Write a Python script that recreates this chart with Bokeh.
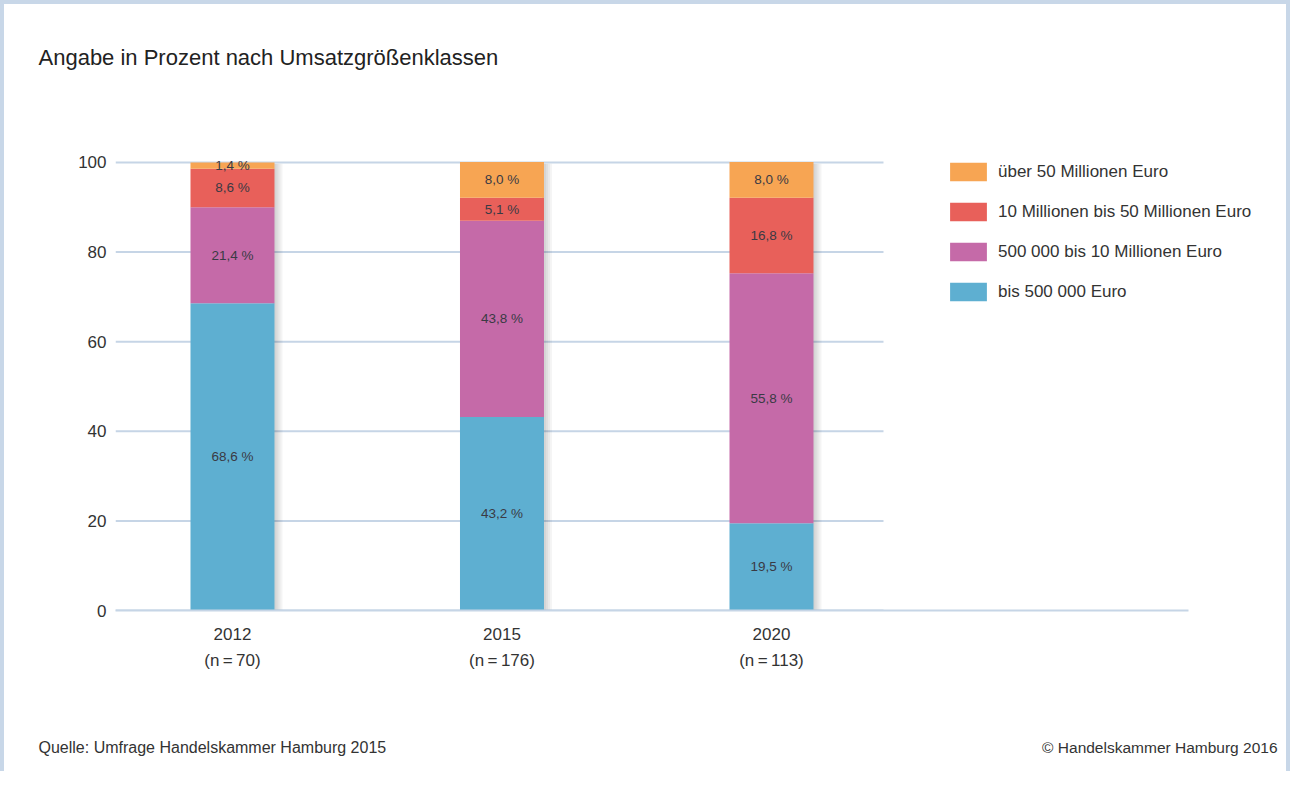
from bokeh.plotting import figure
from bokeh.layouts import column
from bokeh.models import Range1d, FixedTicker, Label, Legend, LegendItem, ColumnDataSource
from bokeh.core.properties import value
from bokeh.embed import file_html
from bokeh.resources import INLINE

# ---------------- data ----------------
years = ["2012", "2015", "2020"]
samples = [70, 176, 113]
series = ["bis 500 000 Euro", "500 000 bis 10 Millionen Euro",
          "10 Millionen bis 50 Millionen Euro", "über 50 Millionen Euro"]
bis_500k = [68.6, 43.2, 19.5]
bis_10m = [21.4, 43.8, 55.8]
bis_50m = [8.6, 5.1, 16.8]
ueber_50m = [1.4, 8.0, 8.0]
colors = ["#5EAFD1", "#C56AA8", "#E8605A", "#F7A553"]
y_ticks = [0, 20, 40, 60, 80, 100]
title_text = "Angabe in Prozent nach Umsatzgrößenklassen"
source_text = "Quelle: Umfrage Handelskammer Hamburg 2015"
copyright_text = "© Handelskammer Hamburg 2016"

# ---------------- layout / style ----------------
FONT = "Liberation Sans"
TXT = "#333333"
GRID = "#C6D5E6"
W = 1282
PX = 269.5            # pixels per category step
x_start, x_end = -0.4341, 3.8887
axis_end = 3.547
grid_end = 2.4156
bar_w = 84 / PX

xs = list(range(len(years)))
layers = [bis_500k, bis_10m, bis_50m, ueber_50m]

# ---------- header ----------
head = figure(width=W, height=100, x_range=Range1d(0, W), y_range=Range1d(0, 100),
              output_backend="svg", toolbar_location=None, min_border=0,
              x_axis_location=None, y_axis_location=None)
head.frame_align = False
head.outline_line_color = None
head.grid.visible = False
head.add_layout(Label(x=34, y=47, text=title_text, text_font=FONT, text_font_size="22px",
                      text_color="#222222", text_baseline="alphabetic"))

# ---------- main chart ----------
p = figure(width=W, height=596, x_range=Range1d(x_start, x_end), y_range=Range1d(0, 102),
           output_backend="svg", toolbar_location=None,
           min_border_left=111, min_border_right=6, min_border_top=49, min_border_bottom=90)
p.frame_align = False
p.outline_line_color = None
p.xgrid.visible = False
p.ygrid.visible = False

# grid lines (stop before legend)
p.segment(x0=[x_start] * len(y_ticks), x1=[grid_end] * len(y_ticks), y0=y_ticks, y1=y_ticks,
          line_color=GRID, line_width=2)

# shadows on the right of the bars
totals = [sum(v) for v in zip(*layers)]
for k in [2, 4, 6, 8]:
    p.quad(left=[x + bar_w / 2 - 2 / PX for x in xs], right=[x + bar_w / 2 + k / PX for x in xs],
           bottom=[0] * 3, top=[min(t, 100) - 0.3 for t in totals],
           fill_color="black", fill_alpha=0.045, line_color=None)

# stacked bars
src = ColumnDataSource(dict(x=xs, s0=bis_500k, s1=bis_10m, s2=bis_50m, s3=ueber_50m))
renderers = p.vbar_stack(["s0", "s1", "s2", "s3"], x="x", width=bar_w, source=src,
                         color=colors, line_color=None)

# segment labels
lx, ly, lt = [], [], []
for i, x in enumerate(xs):
    base = 0
    for layer in layers:
        v = layer[i]
        lx.append(x)
        ly.append(base + v / 2)
        lt.append(f"{v:.1f}".replace(".", ",") + " %")
        base += v
p.text(x=lx, y=ly, text=lt, text_align="center", text_baseline="middle",
       text_font=value(FONT), text_font_size="13.5px", text_color="#3a3a44")

# axes
p.yaxis.ticker = FixedTicker(ticks=y_ticks)
p.yaxis.axis_line_color = None
p.yaxis.major_tick_line_color = None
p.yaxis.major_tick_out = 0
p.yaxis.major_tick_in = 0
p.yaxis.minor_tick_line_color = None
p.yaxis.major_label_text_font = FONT
p.yaxis.major_label_text_font_size = "17px"
p.yaxis.major_label_text_color = TXT
p.yaxis.major_label_standoff = 9

p.xaxis.ticker = FixedTicker(ticks=xs)
p.xaxis.bounds = (x_start, axis_end)
p.xaxis.major_label_overrides = {x: f"{y}\n(n\u2009=\u2009{n})" for x, y, n in zip(xs, years, samples)}
p.xaxis.axis_line_color = GRID
p.xaxis.axis_line_width = 2
p.xaxis.major_tick_line_color = None
p.xaxis.major_tick_out = 0
p.xaxis.major_tick_in = 0
p.xaxis.minor_tick_line_color = None
p.xaxis.major_label_text_font = FONT
p.xaxis.major_label_text_font_size = "17px"
p.xaxis.major_label_text_color = TXT
p.xaxis.major_label_text_line_height = 1.42
p.xaxis.major_label_standoff = 14

# legend (top item first)
items = [LegendItem(label=series[i], renderers=[renderers[i]]) for i in [3, 2, 1, 0]]
legend = Legend(items=items, location=(830, 307), orientation="vertical",
                glyph_width=46, glyph_height=23, spacing=17, padding=0, margin=0,
                label_standoff=7, label_text_font=FONT, label_text_font_size="17px",
                label_text_color=TXT, border_line_color=None, background_fill_alpha=0)
p.add_layout(legend)

# ---------- footer ----------
foot = figure(width=W, height=71, x_range=Range1d(0, W), y_range=Range1d(0, 71),
              output_backend="svg", toolbar_location=None, min_border=0,
              x_axis_location=None, y_axis_location=None)
foot.frame_align = False
foot.outline_line_color = None
foot.grid.visible = False
foot.add_layout(Label(x=34, y=24, text=source_text, text_font=FONT, text_font_size="16px",
                      text_color=TXT, text_baseline="alphabetic"))
foot.add_layout(Label(x=1273, y=24, text=copyright_text, text_font=FONT, text_font_size="15.5px",
                      text_color=TXT, text_baseline="alphabetic", text_align="right"))

page = column(head, p, foot, spacing=0)
page.styles = {"border-top": "4px solid #C8D7E8", "border-left": "4px solid #C8D7E8",
               "border-right": "4px solid #C8D7E8", "background-color": "white"}

open("out.html", "w").write(file_html(page, INLINE))
